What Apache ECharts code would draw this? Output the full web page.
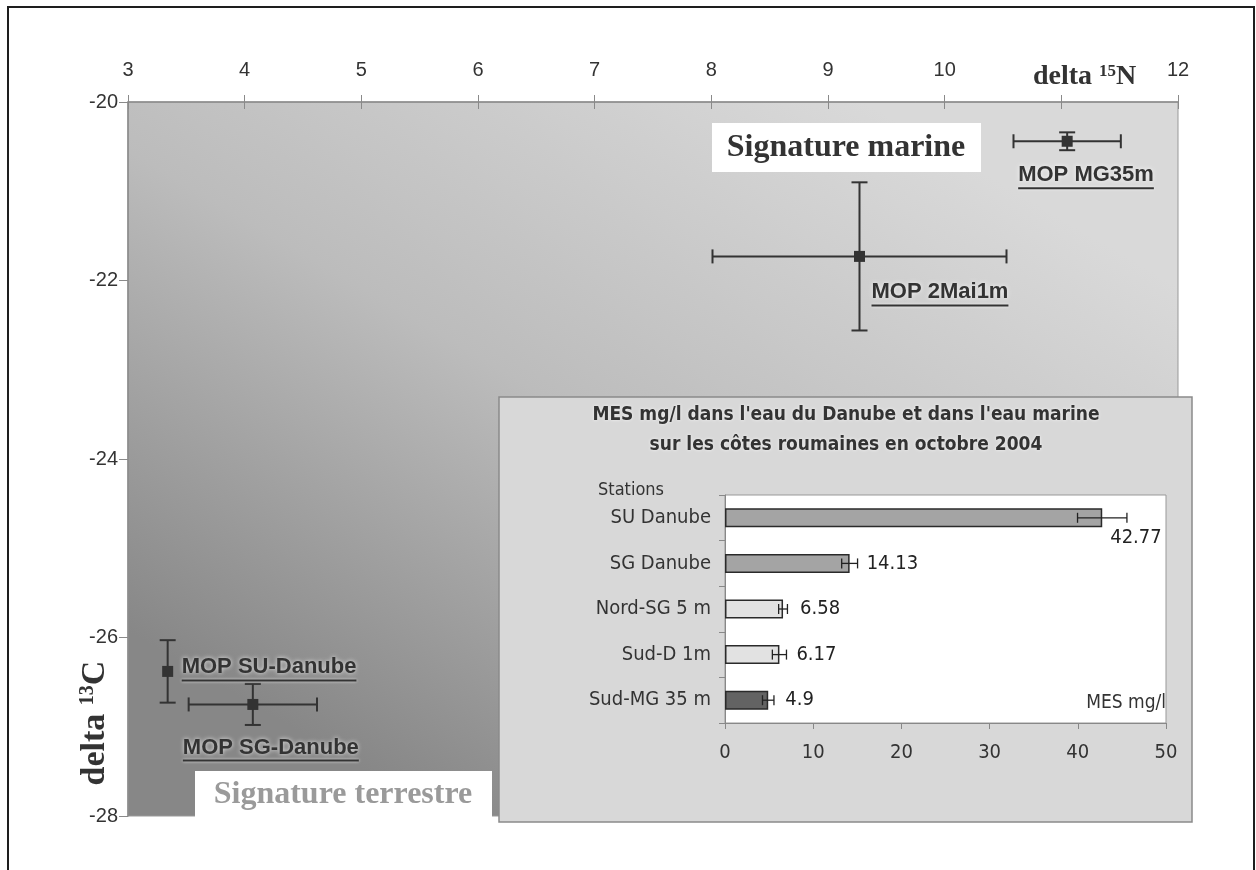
<!DOCTYPE html>
<html>
<head>
<meta charset="utf-8">
<title>delta 15N / delta 13C et MES</title>
<script src="https://cdn.jsdelivr.net/npm/echarts@6/dist/echarts.min.js"></script>
<style>
  html, body { margin: 0; padding: 0; background: #fff; }
  #chart { width: 1256px; height: 870px; }
</style>
</head>
<body>
<div id="chart"></div>
<script>
// main plot: delta 15N (x) against delta 13C (y)
const sampleNames = ['MOP MG35m', 'MOP 2Mai1m', 'MOP SU-Danube', 'MOP SG-Danube'];
const delta15N = [11.05, 9.27, 3.34, 4.07];
const delta15NErr = [0.46, 1.26, 0, 0.55];
const delta13C = [-20.44, -21.73, -26.38, -26.75];
const delta13CErr = [0.1, 0.83, 0.35, 0.23];
const nTicks = [3, 4, 5, 6, 7, 8, 9, 10, 11, 12];
const cTicks = [-28, -26, -24, -22, -20];

// inset: MES mg/l per station
const stations = ['SU Danube', 'SG Danube', 'Nord-SG 5 m', 'Sud-D 1m', 'Sud-MG 35 m'];
const mesValues = [42.77, 14.13, 6.58, 6.17, 4.9];
const mesErr = [2.8, 0.9, 0.5, 0.8, 0.65];
const mesTicks = [0, 10, 20, 30, 40, 50];

// styling only
const sampleLabelShift = [[-49, 34], [12, 36], [14, -4], [-70, 43]];
const stationColors = ['#a4a4a4', '#a4a4a4', '#e2e2e2', '#e2e2e2', '#636363'];
const valueLabelShift = [[8, 20], [17, 0], [17, 0], [17, 0], [17, 0]];

const SANS = '"Liberation Sans", Arial, sans-serif';
const SERIF = '"Liberation Serif", "Times New Roman", serif';
const COND = '"DejaVu Sans Condensed", "Liberation Sans Narrow", "Arial Narrow", sans-serif';
const INK = '#333';

const measureCtx = document.createElement('canvas').getContext('2d');
const textWidth = (str, font) => {
  measureCtx.font = font;
  return measureCtx.measureText(str).width;
};

const chart = echarts.init(document.getElementById('chart'));

const errorBarItem = (params, api) => {
  const x = api.value(0), y = api.value(1);
  const ex = api.value(2), ey = api.value(3);
  const st = { stroke: INK, lineWidth: 2 };
  const children = [];
  if (ex > 0) {
    const l = api.coord([x - ex, y]);
    const r = api.coord([x + ex, y]);
    children.push(
      { type: 'line', shape: { x1: l[0], y1: l[1], x2: r[0], y2: r[1] }, style: st },
      { type: 'line', shape: { x1: l[0], y1: l[1] - 7, x2: l[0], y2: l[1] + 7 }, style: st },
      { type: 'line', shape: { x1: r[0], y1: r[1] - 7, x2: r[0], y2: r[1] + 7 }, style: st }
    );
  }
  if (ey > 0) {
    const t = api.coord([x, y + ey]);
    const b = api.coord([x, y - ey]);
    children.push(
      { type: 'line', shape: { x1: t[0], y1: t[1], x2: b[0], y2: b[1] }, style: st },
      { type: 'line', shape: { x1: t[0] - 8, y1: t[1], x2: t[0] + 8, y2: t[1] }, style: st },
      { type: 'line', shape: { x1: b[0] - 8, y1: b[1], x2: b[0] + 8, y2: b[1] }, style: st }
    );
  }
  return { type: 'group', children };
};

const sampleLabelItem = (params, api) => {
  const i = params.dataIndex;
  const c = api.coord([api.value(0), api.value(1)]);
  const font = 'bold 22px ' + SANS;
  const name = sampleNames[i];
  const px = c[0] + sampleLabelShift[i][0];
  const py = c[1] + sampleLabelShift[i][1];
  const w = textWidth(name, font);
  return {
    type: 'group',
    children: [
      {
        type: 'text',
        style: {
          text: name, x: px, y: py, font, fill: INK,
          align: 'left', verticalAlign: 'middle',
          textAlign: 'left', textVerticalAlign: 'middle',
          textShadowColor: 'rgba(255,255,255,0.8)', textShadowBlur: 4
        }
      },
      {
        type: 'line',
        shape: { x1: px, y1: py + 13, x2: px + w, y2: py + 13 },
        style: { stroke: INK, lineWidth: 2, shadowColor: 'rgba(255,255,255,0.8)', shadowBlur: 3 }
      }
    ]
  };
};

const mesErrorItem = (params, api) => {
  const i = params.dataIndex;
  const v = api.value(0), cat = api.value(1), e = api.value(2);
  const l = api.coord([v - e, cat]);
  const r = api.coord([v + e, cat]);
  const end = api.coord([v, cat]);
  const st = { stroke: '#222', lineWidth: 1.3 };
  return {
    type: 'group',
    children: [
      { type: 'line', shape: { x1: l[0], y1: l[1], x2: r[0], y2: r[1] }, style: st },
      { type: 'line', shape: { x1: l[0], y1: l[1] - 5, x2: l[0], y2: l[1] + 5 }, style: st },
      { type: 'line', shape: { x1: r[0], y1: r[1] - 5, x2: r[0], y2: r[1] + 5 }, style: st },
      {
        type: 'text',
        style: {
          text: String(mesValues[i]),
          x: end[0] + valueLabelShift[i][0], y: end[1] + valueLabelShift[i][1],
          font: '20px ' + COND, fill: '#222',
          align: 'left', verticalAlign: 'middle',
          textAlign: 'left', textVerticalAlign: 'middle'
        }
      }
    ]
  };
};

const option = {
  animation: false,
  backgroundColor: '#fff',
  grid: [
    {
      left: 128, top: 102, width: 1050, height: 714,
      outerBoundsMode: 'none',
      show: true,
      backgroundColor: new echarts.graphic.LinearGradient(0.3, 1, 0.7, 0, [
        { offset: 0, color: '#878787' },
        { offset: 0.5, color: '#bcbcbc' },
        { offset: 1, color: '#d9d9d9' }
      ]),
      borderColor: '#999',
      borderWidth: 1,
      z: 0
    },
    {
      left: 725, top: 495, width: 441, height: 228,
      outerBoundsMode: 'none',
      show: true,
      backgroundColor: '#fff',
      borderColor: '#999',
      borderWidth: 1,
      z: 10
    }
  ],
  xAxis: [
    {
      type: 'value', gridIndex: 0, position: 'top',
      min: nTicks[0], max: nTicks[nTicks.length - 1], interval: nTicks[1] - nTicks[0],
      axisLine: { show: true, lineStyle: { color: '#8a8a8a', width: 1.5 } },
      axisTick: { show: true, length: 7, lineStyle: { color: '#8a8a8a' } },
      axisLabel: {
        fontSize: 20, fontFamily: SANS, color: INK, margin: 22,
        formatter: v => (v === 11 ? '' : String(v))
      },
      splitLine: { show: false },
      z: 1
    },
    {
      type: 'value', gridIndex: 0, position: 'top',
      min: nTicks[0], max: nTicks[nTicks.length - 1], interval: nTicks[1] - nTicks[0],
      axisLine: { show: false },
      axisTick: { show: true, inside: true, length: 7, lineStyle: { color: '#8a8a8a' } },
      axisLabel: { show: false },
      splitLine: { show: false },
      z: 1
    },
    {
      type: 'value', gridIndex: 1, position: 'bottom',
      min: mesTicks[0], max: mesTicks[mesTicks.length - 1], interval: mesTicks[1] - mesTicks[0],
      axisLine: { show: true, lineStyle: { color: '#888' } },
      axisTick: { show: true, length: 6, lineStyle: { color: '#888' } },
      axisLabel: { fontSize: 20, fontFamily: COND, color: INK, margin: 20 },
      splitLine: { show: false },
      z: 11
    }
  ],
  yAxis: [
    {
      type: 'value', gridIndex: 0,
      min: cTicks[0], max: cTicks[cTicks.length - 1], interval: cTicks[1] - cTicks[0],
      axisLine: { show: true, lineStyle: { color: '#8a8a8a', width: 1.5 } },
      axisTick: { show: true, length: 9, lineStyle: { color: '#8a8a8a' } },
      axisLabel: { fontSize: 20, fontFamily: SANS, color: INK, margin: 10 },
      splitLine: { show: false },
      z: 1
    },
    {
      type: 'category', gridIndex: 1, inverse: true,
      data: stations,
      axisLine: { show: true, lineStyle: { color: '#888' } },
      axisTick: { show: true, length: 6, lineStyle: { color: '#888' } },
      axisLabel: { fontSize: 20, fontFamily: COND, color: INK, margin: 14 },
      splitLine: { show: false },
      z: 11
    }
  ],
  series: [
    {
      type: 'custom', name: 'barres d\'erreur',
      xAxisIndex: 0, yAxisIndex: 0,
      data: delta15N.map((v, i) => [v, delta13C[i], delta15NErr[i], delta13CErr[i]]),
      encode: { x: 0, y: 1 },
      renderItem: errorBarItem,
      z: 2
    },
    {
      type: 'scatter', name: 'MOP',
      xAxisIndex: 0, yAxisIndex: 0,
      data: delta15N.map((v, i) => [v, delta13C[i]]),
      symbol: 'rect', symbolSize: 11,
      itemStyle: { color: INK, opacity: 1 },
      z: 3
    },
    {
      type: 'custom', name: 'étiquettes',
      xAxisIndex: 0, yAxisIndex: 0,
      data: delta15N.map((v, i) => [v, delta13C[i]]),
      encode: { x: 0, y: 1 },
      renderItem: sampleLabelItem,
      z: 3
    },
    {
      type: 'bar', name: 'MES mg/l',
      xAxisIndex: 2, yAxisIndex: 1,
      data: mesValues.map((v, i) => ({ value: v, itemStyle: { color: stationColors[i] } })),
      barWidth: 19,
      itemStyle: { borderColor: '#2a2a2a', borderWidth: 1.5 },
      z: 12
    },
    {
      type: 'custom', name: 'erreur MES',
      xAxisIndex: 2, yAxisIndex: 1,
      data: mesValues.map((v, i) => [v, i, mesErr[i]]),
      encode: { x: 0, y: 1 },
      renderItem: mesErrorItem,
      z: 13
    }
  ],
  graphic: [
    // outer frame
    {
      type: 'rect', z: 30, silent: true,
      shape: { x: 8, y: 7, width: 1246, height: 900 },
      style: { fill: 'none', stroke: '#1e1e1e', lineWidth: 2 }
    },
    // axis titles
    {
      type: 'text', z: 4,
      style: {
        x: 1033, y: 77,
        text: '{b|delta }{s|15}{b|N}',
        verticalAlign: 'middle', textVerticalAlign: 'middle',
        rich: {
          b: { fontFamily: SERIF, fontWeight: 'bold', fontSize: 28, fill: INK, color: INK },
          s: { fontFamily: SERIF, fontWeight: 'bold', fontSize: 17, fill: INK, color: INK, verticalAlign: 'top' }
        }
      }
    },
    {
      type: 'rect', z: 4,
      shape: { x: 72, y: 653, width: 45, height: 138 },
      style: { fill: '#fff' }
    },
    {
      type: 'text', z: 5,
      x: 95, y: 723, rotation: Math.PI / 2,
      style: {
        x: 0, y: 0,
        text: '{b|delta }{s|13}{b|C}',
        align: 'center', verticalAlign: 'middle',
        textAlign: 'center', textVerticalAlign: 'middle',
        rich: {
          b: { fontFamily: SERIF, fontWeight: 'bold', fontSize: 34, fill: INK, color: INK },
          s: { fontFamily: SERIF, fontWeight: 'bold', fontSize: 20, fill: INK, color: INK, verticalAlign: 'top' }
        }
      }
    },
    // zone labels
    {
      type: 'rect', z: 4,
      shape: { x: 712, y: 123, width: 269, height: 49 },
      style: { fill: '#fff' }
    },
    {
      type: 'text', z: 5,
      style: {
        x: 846, y: 148, text: 'Signature marine',
        font: 'bold 32px ' + SERIF, fill: INK,
        align: 'center', verticalAlign: 'middle',
        textAlign: 'center', textVerticalAlign: 'middle'
      }
    },
    {
      type: 'rect', z: 4,
      shape: { x: 195, y: 771, width: 297, height: 46 },
      style: { fill: '#fff' }
    },
    {
      type: 'text', z: 5,
      style: {
        x: 343, y: 795, text: 'Signature terrestre',
        font: 'bold 32px ' + SERIF, fill: '#9a9a9a',
        align: 'center', verticalAlign: 'middle',
        textAlign: 'center', textVerticalAlign: 'middle'
      }
    },
    // inset panel
    {
      type: 'rect', z: 6,
      shape: { x: 499, y: 397, width: 693, height: 425 },
      style: { fill: '#d8d8d8', stroke: '#8a8a8a', lineWidth: 1.5 }
    },
    {
      type: 'text', z: 11,
      style: {
        x: 846, y: 415,
        text: 'MES mg/l dans l\'eau du Danube et dans l\'eau marine',
        font: 'bold 19px ' + COND, fill: INK,
        align: 'center', verticalAlign: 'middle',
        textAlign: 'center', textVerticalAlign: 'middle',
        textShadowColor: 'rgba(255,255,255,0.8)', textShadowBlur: 3
      }
    },
    {
      type: 'text', z: 11,
      style: {
        x: 846, y: 445,
        text: 'sur les côtes roumaines en octobre 2004',
        font: 'bold 19px ' + COND, fill: INK,
        align: 'center', verticalAlign: 'middle',
        textAlign: 'center', textVerticalAlign: 'middle',
        textShadowColor: 'rgba(255,255,255,0.8)', textShadowBlur: 3
      }
    },
    {
      type: 'text', z: 11,
      style: {
        x: 598, y: 490, text: 'Stations',
        font: '18px ' + COND, fill: INK,
        align: 'left', verticalAlign: 'middle',
        textAlign: 'left', textVerticalAlign: 'middle'
      }
    },
    {
      type: 'text', z: 14,
      style: {
        x: 1166, y: 703, text: 'MES mg/l',
        font: '19px ' + COND, fill: INK,
        align: 'right', verticalAlign: 'middle',
        textAlign: 'right', textVerticalAlign: 'middle'
      }
    }
  ]
};

chart.setOption(option);
</script>
</body>
</html>
